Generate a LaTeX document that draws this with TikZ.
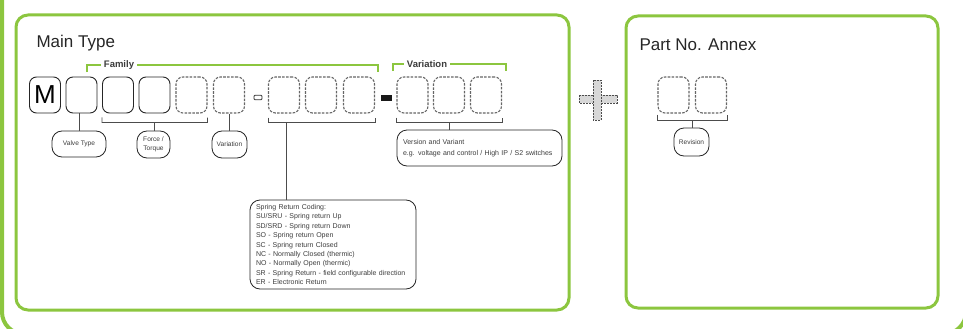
\documentclass[tikz,border=0pt]{standalone}
\usepackage{fontspec}
\setmainfont{Liberation Sans}
\usetikzlibrary{calc}

\definecolor{panelgreen}{RGB}{140,198,63}
\definecolor{inkgray}{RGB}{60,60,60}
\definecolor{plusgray}{RGB}{215,215,215}

\tikzset{
  panel/.style={draw=panelgreen, line width=3pt, rounded corners=12pt},
  digit/.style={draw=black!85, line width=0.9pt, rounded corners=7pt, minimum width=31pt, minimum height=36pt, inner sep=0pt},
  optdigit/.style={digit, draw=black!60, dash pattern=on 2.6pt off 1.3pt, line width=1.1pt},
  tag/.style={draw=black!85, line width=0.8pt, rounded corners=10pt, inner sep=1pt, align=center, font=\fontsize{6.6}{9.5}\selectfont},
  note/.style={draw=black!85, line width=0.8pt, rounded corners=10pt, inner xsep=6pt, inner ysep=2pt, align=left, font=\fontsize{7}{9.4}\selectfont},
  brk/.style={draw=black!70, line width=0.8pt},
  grnbrk/.style={draw=panelgreen, line width=2.6pt},
  grnlbl/.style={fill=white, inner xsep=3pt, inner ysep=1pt, font=\fontsize{9.5}{11}\selectfont\bfseries},
  plusbar/.style={fill=plusgray, draw=black!70, dash pattern=on 2pt off 1pt, line width=0.7pt},
}

\begin{document}
\begin{tikzpicture}[x=1pt, y=-1pt, every node/.style={text=inkgray}]
  \useasboundingbox (0,0) rectangle (963,329);
  \begin{scope}
    \clip (0,0) rectangle (963,329);
    \draw[panel, line width=4pt, rounded corners=22pt] (2,-30) rectangle (966,334);
  \end{scope}
  \draw[panel] (16,15) rectangle (569,310);
  \draw[panel] (626,16) rectangle (938,308);

  \node[anchor=west, font=\fontsize{17}{20}\selectfont, text=black!85] (maintitle) at (33,43) {Main Type};
  \node[anchor=west, font=\fontsize{17}{20}\selectfont, text=black!85] (annextitle) at (636,45) {Part No. Annex};

  \node[digit, font=\fontsize{26}{26}\selectfont, text=black] (m) at (45,95) {M};
  \node[digit] (b2) at (81.5,95) {};
  \node[digit] (b3) at (118,95) {};
  \node[digit] (b4) at (154.5,95) {};
  \node[optdigit] (b5) at (191.5,95) {};
  \node[optdigit] (b6) at (229,95) {};
  \node[draw=black!80, line width=0.8pt, rounded corners=1pt, minimum width=8pt, minimum height=4.5pt, inner sep=0pt] (optdash) at (258,97.5) {};
  \node[optdigit] (b7) at (284,95) {};
  \node[optdigit] (b8) at (321,95) {};
  \node[optdigit] (b9) at (359,95) {};
  \node[fill=black!90, minimum width=11pt, minimum height=5.5pt, inner sep=0pt] (dash) at (386.5,98) {};
  \node[optdigit] (b10) at (412.5,95) {};
  \node[optdigit] (b11) at (449,95) {};
  \node[optdigit] (b12) at (486,95) {};
  \node[optdigit] (r1) at (673.5,95) {};
  \node[optdigit] (r2) at (711,95) {};

  \node[grnlbl] (famlbl) at (119,65) {Family};
  \draw[grnbrk] (87,72) |- (famlbl.west);
  \draw[grnbrk] (famlbl.east) -| (378,72);
  \node[grnlbl] (varlbl) at (427,64) {Variation};
  \draw[grnbrk] (393,71) |- (varlbl.west);
  \draw[grnbrk] (varlbl.east) -| (506,71);

  \draw[plusbar] (579,95) rectangle (617,103);
  \draw[plusbar] (593,80) rectangle (601,120);

  \node[tag, minimum width=54pt, minimum height=26pt] (valvetag) at (79,144) {Valve Type};
  \node[tag, minimum width=33pt, minimum height=27pt] (forcetag) at (153.5,144.5) {Force /\\Torque};
  \node[tag, minimum width=35pt, minimum height=27pt] (variationtag) at (229.5,144.5) {Variation};
  \node[tag, minimum width=35pt, minimum height=28pt] (revtag) at (691.5,142) {Revision};
  \node[note, text width=153pt, minimum height=36pt] (versiontag) at (479.5,148) {Version and Variant\\[1.5pt]e.g. voltage and control / High IP / S2 switches};
  \node[note, text width=154pt, minimum height=89pt] (springtag) at (333,244.5) {Spring Return Coding:\\
    SU/SRU - Spring return Up\\
    SD/SRD - Spring return Down\\
    SO - Spring return Open\\
    SC - Spring return Closed\\
    NC - Normally Closed (thermic)\\
    NO - Normally Open (thermic)\\
    SR - Spring Return - field configurable direction\\
    ER - Electronic Return};

  \coordinate (famMid) at ($(b3.south west)!0.5!(b5.south east)+(0,9)$);
  \coordinate (sprStem) at ($(b7.south west)+(18,9)$);
  \coordinate (verMid) at ($(b10.south west)!0.5!(b12.south east)+(0,9)$);
  \coordinate (revMid) at ($(r1.south west)!0.5!(r2.south east)+(0,7)$);

  \draw[brk] ([yshift=-4pt]b3.south west) -- ([yshift=-9pt]b3.south west) -- ([yshift=-9pt]b5.south east) -- ([yshift=-4pt]b5.south east);
  \draw[brk] ([yshift=-4pt]b7.south west) -- ([yshift=-9pt]b7.south west) -- ([yshift=-9pt]b9.south east) -- ([yshift=-4pt]b9.south east);
  \draw[brk] ([yshift=-4pt]b10.south west) -- ([yshift=-9pt]b10.south west) -- ([yshift=-9pt]b12.south east) -- ([yshift=-4pt]b12.south east);
  \draw[brk] ([yshift=-1pt]r1.south west) -- ([yshift=-7pt]r1.south west) -- ([yshift=-7pt]r2.south east) -- ([yshift=-1pt]r2.south east);

  \draw[brk] (valvetag.north) -- (valvetag.north |- b2.south);
  \draw[brk] (famMid) -- (famMid |- forcetag.north);
  \draw[brk] (variationtag.north) -- (variationtag.north |- b6.south);
  \draw[brk] (sprStem) -- (sprStem |- springtag.north);
  \draw[brk] (verMid) -- (verMid |- versiontag.north);
  \draw[brk] (revMid) -- (revMid |- revtag.north);
\end{tikzpicture}
\end{document}
